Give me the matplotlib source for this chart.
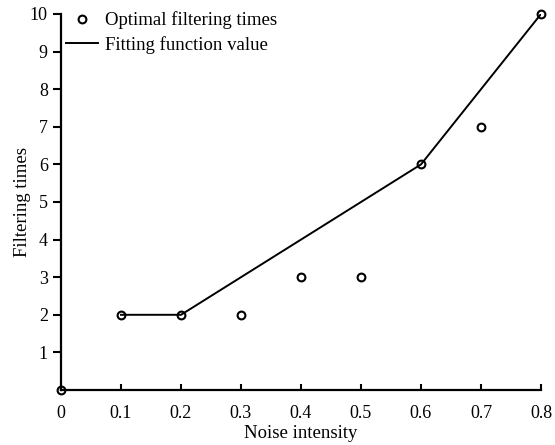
import matplotlib
matplotlib.use("Agg")
import matplotlib.pyplot as plt

noise = [0, 0.1, 0.2, 0.3, 0.4, 0.5, 0.6, 0.7, 0.8]
optimal_times = [0, 2, 2, 2, 3, 3, 6, 7, 10]
fit_x = [0.1, 0.2, 0.6, 0.8]
fit_y = [2, 2, 6, 10]
xticks = [0, 0.1, 0.2, 0.3, 0.4, 0.5, 0.6, 0.7, 0.8]
xtick_labels = ["0", "0.1", "0.2", "0.3", "0.4", "0.5", "0.6", "0.7", "0.8"]
yticks = [1, 2, 3, 4, 5, 6, 7, 8, 9, 10]

plt.rcParams['font.family'] = ['Liberation Serif', 'DejaVu Serif']

fig = plt.figure(figsize=(5.55, 4.45), dpi=100)
ax = fig.add_axes([61/555, 1 - 390/445, (541-61)/555, (390-14)/445])

ax.plot(fit_x, fit_y, color='black', lw=1.4, label='Fitting function value', zorder=2)
ax.plot(noise, optimal_times, linestyle='none', marker='o', markersize=5.6,
        markerfacecolor='none', markeredgecolor='black', markeredgewidth=1.5,
        label='Optimal filtering times', clip_on=False, zorder=3)

ax.set_xlim(0, 0.8)
ax.set_ylim(0, 10)
ax.set_xticks(xticks)
ax.set_xticklabels(xtick_labels)
ax.set_yticks(yticks)
ax.spines['top'].set_visible(False)
ax.spines['right'].set_visible(False)
ax.spines['left'].set_linewidth(1.6)
ax.spines['bottom'].set_linewidth(1.6)
ax.tick_params(axis='x', direction='in', length=4, width=1.5, labelsize=13, pad=10.5)
ax.tick_params(axis='y', direction='out', length=5.5, width=1.5, labelsize=13, pad=4)

ax.set_xlabel('Noise intensity', fontsize=13.5, labelpad=2.5)
ax.set_ylabel('Filtering times', fontsize=13.5, labelpad=-1)

handles, labels = ax.get_legend_handles_labels()
fs = 13.5
px = fs * 100 / 72
ax.legend(handles[::-1], labels[::-1], loc='upper left', frameon=False, fontsize=fs,
          handlelength=32/px, handletextpad=7/px, borderaxespad=0, borderpad=0.4,
          labelspacing=0.34,
          bbox_to_anchor=((66 - 0.4*px - 61)/480, 1 + (14 - 4)/376))

fig.savefig('out.png', dpi=100)
